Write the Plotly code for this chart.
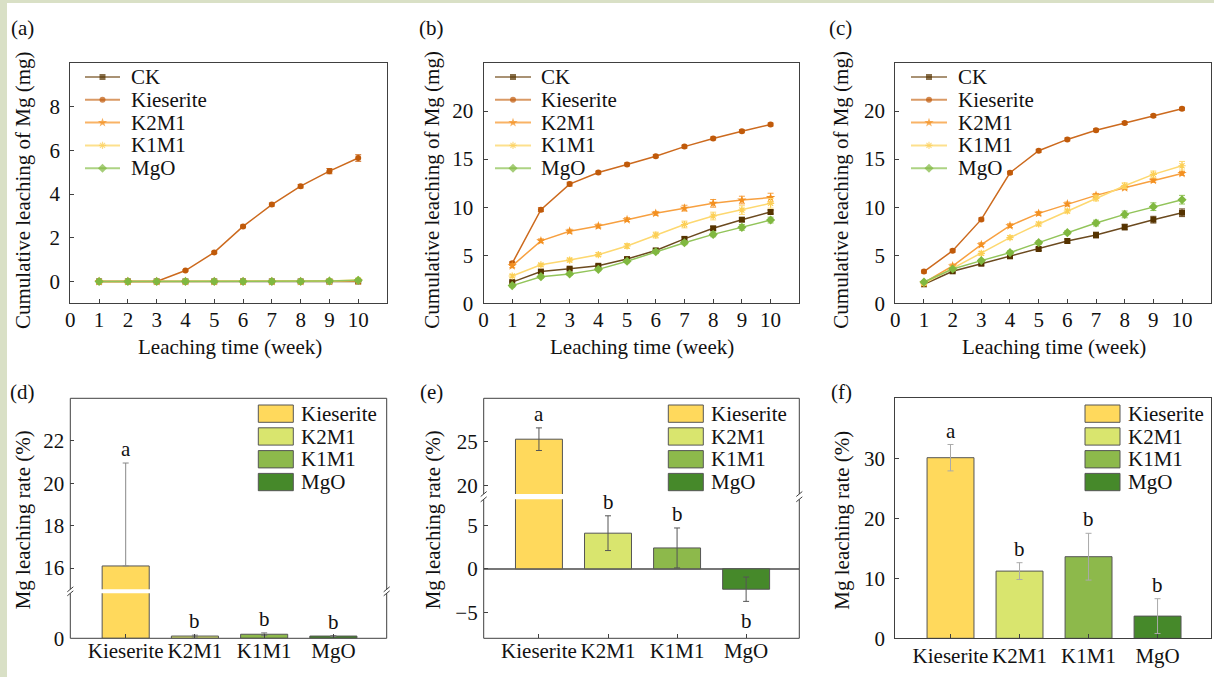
import plotly.graph_objects as go

W, H = 1214, 677
FONT = "'Liberation Serif', 'Times New Roman', Times, serif"
AX = "#404040"

# ---------------- data ----------------
weeks = [1, 2, 3, 4, 5, 6, 7, 8, 9, 10]
series = ["CK", "Kieserite", "K2M1", "K1M1", "MgO"]

# (a)
a_CK = [0, 0, 0, 0, 0, 0, 0, 0, 0, 0]
a_Kieserite = [0, 0, 0, 0.5, 1.33, 2.52, 3.52, 4.36, 5.05, 5.65]
a_K2M1 = [0, 0, 0, 0, 0, 0, 0, 0, 0.01, 0.02]
a_K1M1 = [0, 0, 0, 0, 0, 0, 0, 0, 0.02, 0.07]
a_MgO = [0, 0, 0, 0, 0, 0, 0, 0, 0.02, 0.05]
a_err_CK = [0.01] * 10
a_err_Kieserite = [0, 0, 0, 0.03, 0.05, 0.06, 0.07, 0.08, 0.12, 0.15]
a_err_K2M1 = [0.01] * 10
a_err_K1M1 = [0.01] * 10
a_err_MgO = [0.01] * 10

# (b)
b_CK = [2.2, 3.3, 3.6, 3.9, 4.6, 5.5, 6.7, 7.8, 8.7, 9.5]
b_Kieserite = [4.16, 9.74, 12.4, 13.6, 14.45, 15.3, 16.3, 17.15, 17.9, 18.6]
b_K2M1 = [3.9, 6.5, 7.5, 8.04, 8.7, 9.36, 9.9, 10.4, 10.74, 11.0]
b_K1M1 = [2.84, 4.0, 4.5, 5.06, 5.96, 7.1, 8.2, 9.08, 9.7, 10.4]
b_MgO = [1.84, 2.77, 3.05, 3.53, 4.37, 5.37, 6.3, 7.17, 7.9, 8.66]
b_err_CK = [0.1, 0.15, 0.15, 0.15, 0.15, 0.15, 0.2, 0.2, 0.2, 0.2]
b_err_Kieserite = [0.15, 0.2, 0.2, 0.15, 0.15, 0.15, 0.15, 0.15, 0.15, 0.15]
b_err_K2M1 = [0.2, 0.2, 0.2, 0.2, 0.2, 0.2, 0.3, 0.4, 0.4, 0.45]
b_err_K1M1 = [0.15, 0.15, 0.2, 0.2, 0.25, 0.3, 0.35, 0.4, 0.45, 0.5]
b_err_MgO = [0.15, 0.15, 0.15, 0.15, 0.15, 0.2, 0.2, 0.25, 0.3, 0.3]

# (c)
c_CK = [1.98, 3.33, 4.12, 4.89, 5.65, 6.48, 7.1, 7.93, 8.7, 9.42]
c_Kieserite = [3.3, 5.47, 8.73, 13.58, 15.87, 17.05, 18.0, 18.75, 19.5, 20.24]
c_K2M1 = [2.15, 3.88, 6.1, 8.07, 9.36, 10.33, 11.23, 12.02, 12.79, 13.51]
c_K1M1 = [2.04, 3.64, 5.2, 6.83, 8.25, 9.6, 10.95, 12.23, 13.41, 14.31]
c_MgO = [2.22, 3.57, 4.44, 5.27, 6.31, 7.35, 8.35, 9.25, 10.05, 10.78]
c_err_CK = [0.1, 0.15, 0.15, 0.15, 0.15, 0.2, 0.3, 0.3, 0.35, 0.4]
c_err_Kieserite = [0.15] * 10
c_err_K2M1 = [0.15, 0.2, 0.2, 0.2, 0.2, 0.2, 0.2, 0.2, 0.2, 0.2]
c_err_K1M1 = [0.1, 0.15, 0.2, 0.2, 0.2, 0.2, 0.3, 0.3, 0.35, 0.45]
c_err_MgO = [0.1, 0.15, 0.15, 0.2, 0.2, 0.2, 0.3, 0.35, 0.4, 0.45]

# bar panels
treatments = ["Kieserite", "K2M1", "K1M1", "MgO"]
d_rate = [16.1, 0.05, 0.09, 0.05]
d_err_plus = [4.85, 0.02, 0.03, 0.01]
d_err_minus = [0, 0.02, 0.03, 0.01]
d_letters = ["a", "b", "b", "b"]
e_rate = [25.3, 4.1, 2.4, -2.35]
e_err = [1.3, 2.0, 2.3, 1.4]
e_letters = ["a", "b", "b", "b"]
f_rate = [30.1, 11.2, 13.6, 3.7]
f_err = [2.2, 1.4, 3.9, 2.9]
f_letters = ["a", "b", "b", "b"]

# ---------------- styles ----------------
line_col = {"CK": "#6b4a1f", "Kieserite": "#cc6a1e", "K2M1": "#f7a040",
            "K1M1": "#fdd870", "MgO": "#92c45a"}
mark_col = {"CK": "#553300", "Kieserite": "#c05a0a", "K2M1": "#f39020",
            "K1M1": "#fccf55", "MgO": "#80b840"}
legend_line = {"CK": "rgba(140,110,70,0.75)", "Kieserite": "rgba(205,120,50,0.75)",
               "K2M1": "rgba(247,160,64,0.8)", "K1M1": "rgba(253,216,112,0.8)",
               "MgO": "rgba(146,196,90,0.75)"}
symbols = {"CK": "square", "Kieserite": "circle", "K2M1": "star",
           "K1M1": "asterisk-open", "MgO": "diamond"}
msize = {"CK": 6, "Kieserite": 6, "K2M1": 7, "K1M1": 6, "MgO": 7}
bar_col = ["#FFD95C", "#D9E56E", "#8DB94B", "#46892A"]


def px(x):
    return x / W


def py(y):
    return 1 - y / H


def mk_marker(name):
    m = dict(symbol=symbols[name], size=msize[name], color=mark_col[name])
    if symbols[name] == "asterisk-open":
        m["line"] = dict(color=mark_col[name], width=1.2)
    else:
        m["line"] = dict(width=0)
    return m


fig = go.Figure()

panels = [
    ("x", "y", [a_CK, a_Kieserite, a_K2M1, a_K1M1, a_MgO],
     [a_err_CK, a_err_Kieserite, a_err_K2M1, a_err_K1M1, a_err_MgO]),
    ("x2", "y2", [b_CK, b_Kieserite, b_K2M1, b_K1M1, b_MgO],
     [b_err_CK, b_err_Kieserite, b_err_K2M1, b_err_K1M1, b_err_MgO]),
    ("x3", "y3", [c_CK, c_Kieserite, c_K2M1, c_K1M1, c_MgO],
     [c_err_CK, c_err_Kieserite, c_err_K2M1, c_err_K1M1, c_err_MgO]),
]
for xa, ya, vals, errs in panels:
    for name, v, e in zip(series, vals, errs):
        fig.add_trace(go.Scatter(
            x=weeks, y=v, xaxis=xa, yaxis=ya, mode="lines+markers", name=name,
            line=dict(color=line_col[name], width=1.5),
            marker=mk_marker(name),
            error_y=dict(type="data", array=e, visible=True, color=line_col[name],
                         thickness=1, width=3),
            showlegend=False, cliponaxis=False))


def add_bars(xa, ya, vals, plus, minus, ecol):
    fig.add_trace(go.Bar(
        x=treatments, y=vals, xaxis=xa, yaxis=ya, width=0.68,
        marker=dict(color=bar_col, line=dict(color="#555555", width=1)),
        error_y=dict(type="data", array=plus, arrayminus=minus, symmetric=False,
                     visible=True, color=ecol, thickness=1, width=3),
        showlegend=False))


add_bars("x4", "y4", d_rate, d_err_plus, d_err_minus, "#777777")
add_bars("x4", "y5", d_rate, d_err_plus, d_err_minus, "#888888")
add_bars("x5", "y6", e_rate, e_err, e_err, "#555555")
add_bars("x5", "y7", e_rate, e_err, e_err, "#555555")
add_bars("x6", "y8", f_rate, f_err, f_err, "#aaaaaa")

# ---------------- axes ----------------
tickfont = dict(family=FONT, size=21, color="#111111")
common = dict(showgrid=False, zeroline=False, ticks="inside", ticklen=4,
              tickcolor=AX, tickfont=tickfont, fixedrange=True, automargin=False)

line_dom_y = [py(303.3), py(63)]
line_x = {"": (70.3, 387), "2": (483.5, 799.3), "3": (895.3, 1210.7)}
y_rng = {"": ([-1, 10], [0, 2, 4, 6, 8]), "2": ([0, 25], [0, 5, 10, 15, 20]),
         "3": ([0, 25], [0, 5, 10, 15, 20])}
layout = {}
for k, (x0, x1) in line_x.items():
    layout["xaxis" + k] = dict(common, domain=[px(x0), px(x1)], range=[0, 11],
                               tickvals=list(range(0, 11)), anchor="y" + k,
                               showline=True, mirror=True, linecolor=AX, linewidth=1,
                               ticklabelstandoff=-3)
    layout["yaxis" + k] = dict(common, domain=line_dom_y, range=y_rng[k][0],
                               tickvals=y_rng[k][1], anchor="x" + k,
                               showline=True, mirror=True, linecolor=AX, linewidth=1,
                               ticklabelstandoff=5)

cat_rng = [-0.8, 3.77]
# (d)
layout["xaxis4"] = dict(common, domain=[px(70.3), px(386.7)], range=cat_rng,
                        anchor="y4", type="category", showline=False, ticklabelstandoff=-2)
layout["yaxis4"] = dict(common, domain=[py(638.3), py(593.3)], range=[0, 1],
                        tickvals=[0], anchor="x4", ticklabelstandoff=5)
layout["yaxis5"] = dict(common, domain=[py(589.3), py(398.3)], range=[15, 24],
                        tickvals=[16, 18, 20, 22], anchor="x4", ticklabelstandoff=5)
# (e)
layout["xaxis5"] = dict(common, domain=[px(483.7), px(799.3)], range=cat_rng,
                        anchor="y6", type="category", showline=False, ticklabelstandoff=-2)
layout["yaxis6"] = dict(common, domain=[py(638.3), py(499.3)], range=[-8, 8],
                        tickvals=[-5, 0, 5], anchor="x5", zeroline=True,
                        zerolinecolor="#777777", zerolinewidth=1.5, ticklabelstandoff=5)
layout["yaxis7"] = dict(common, domain=[py(494), py(398.3)], range=[19, 30],
                        tickvals=[20, 25], anchor="x5", ticklabelstandoff=5)
# (f)
layout["xaxis6"] = dict(common, domain=[px(895.3), px(1210.7)], range=cat_rng,
                        anchor="y8", type="category", showline=True, mirror=True,
                        linecolor=AX, linewidth=1, ticklabelstandoff=-2)
layout["yaxis8"] = dict(common, domain=[py(638.3), py(398.3)], range=[0, 40],
                        tickvals=[0, 10, 20, 30], anchor="x6", showline=True,
                        mirror=True, linecolor=AX, linewidth=1, ticklabelstandoff=5)
# overlay (pixel) axes for the hand-drawn legends
layout["xaxis7"] = dict(domain=[0, 1], range=[0, W], visible=False, fixedrange=True,
                        anchor="y9", automargin=False)
layout["yaxis9"] = dict(domain=[0, 1], range=[H, 0], visible=False, fixedrange=True,
                        anchor="x7", automargin=False)

# ---------------- line legends ----------------
leg_rows = [77 + i * 22.8 for i in range(5)]
line_leg = [(85, 120, 129), (495, 531, 539), (911, 947, 955.5)]
annotations = []
for (l0, l1, tx) in line_leg:
    for name, yy in zip(series, leg_rows):
        mid = (l0 + l1) / 2
        m = mk_marker(name)
        m["size"] = [0, msize[name], 0]
        fig.add_trace(go.Scatter(x=[l0, mid, l1], y=[yy, yy, yy], xaxis="x7", yaxis="y9",
                                 mode="lines+markers",
                                 line=dict(color=legend_line[name], width=2),
                                 marker=m, showlegend=False, hoverinfo="skip"))
        annotations.append(dict(x=px(tx), y=py(yy), xref="paper", yref="paper",
                                text=name, showarrow=False, xanchor="left",
                                yanchor="middle", font=dict(family=FONT, size=21,
                                                            color="#111111")))

# ---------------- bar legends ----------------
shapes = []
bar_leg_rows = [405 + i * 22.8 for i in range(4)]
for rx in [258.3, 668.3, 1085]:
    for t, col, yy in zip(treatments, bar_col, bar_leg_rows):
        shapes.append(dict(type="rect", xref="paper", yref="paper",
                           x0=px(rx), x1=px(rx + 35), y0=py(yy + 17.3), y1=py(yy),
                           fillcolor=col, line=dict(color="#555555", width=1)))
        annotations.append(dict(x=px(rx + 41), y=py(yy + 8.7), xref="paper",
                                yref="paper", text=t, showarrow=False,
                                xanchor="left", yanchor="middle",
                                font=dict(family=FONT, size=21, color="#111111")))


# ---------------- frames for broken-axis panels ----------------
def broken_frame(x0, x1, top, up_bot, lo_top, bot):
    segs = [(x0, top, x1, top), (x0, bot, x1, bot),
            (x0, top, x0, up_bot), (x0, lo_top, x0, bot),
            (x1, top, x1, up_bot), (x1, lo_top, x1, bot)]
    for xx in (x0, x1):
        for yy in (up_bot, lo_top):
            segs.append((xx - 3, yy + 2.5, xx + 3, yy - 2.5))
    for (a, b, c, d) in segs:
        shapes.append(dict(type="line", xref="paper", yref="paper",
                           x0=px(a), y0=py(b), x1=px(c), y1=py(d),
                           line=dict(color=AX, width=1)))


broken_frame(70.3, 386.7, 398.3, 589.3, 593.3, 638.3)
broken_frame(483.7, 799.3, 398.3, 494, 499.3, 638.3)

# background strips
shapes.append(dict(type="rect", xref="paper", yref="paper", x0=0, x1=px(7), y0=0, y1=1,
                   fillcolor="#d9e0c6", line=dict(width=0), layer="below"))
shapes.append(dict(type="rect", xref="paper", yref="paper", x0=0, x1=1, y0=py(3), y1=1,
                   fillcolor="#d9e0c6", line=dict(width=0), layer="below"))


# ---------------- letters ----------------
def letters(xa, ya, cats, vals, plus, minus, labs):
    for t, v, p, m, l in zip(cats, vals, plus, minus, labs):
        if v >= 0:
            annotations.append(dict(x=t, y=v + p, xref=xa, yref=ya, text=l,
                                    showarrow=False, yanchor="bottom", yshift=0,
                                    font=dict(family=FONT, size=21, color="#111111")))
        else:
            annotations.append(dict(x=t, y=v - m, xref=xa, yref=ya, text=l,
                                    showarrow=False, yanchor="top", yshift=-6,
                                    font=dict(family=FONT, size=21, color="#111111")))


letters("x4", "y5", treatments[:1], d_rate[:1], d_err_plus[:1], d_err_minus[:1], d_letters[:1])
letters("x4", "y4", treatments[1:], d_rate[1:], d_err_plus[1:], d_err_minus[1:], d_letters[1:])
letters("x5", "y7", treatments[:1], e_rate[:1], e_err[:1], e_err[:1], e_letters[:1])
letters("x5", "y6", treatments[1:], e_rate[1:], e_err[1:], e_err[1:], e_letters[1:])
letters("x6", "y8", treatments, f_rate, f_err, f_err, f_letters)

# ---------------- titles / panel labels ----------------
tf = dict(family=FONT, size=21, color="#111111")
for lab, x, y in [("(a)", 22, 28), ("(b)", 431.5, 28), ("(c)", 840, 28),
                  ("(d)", 22, 391.5), ("(e)", 431.5, 391.5), ("(f)", 841.5, 391.5)]:
    annotations.append(dict(x=px(x), y=py(y), xref="paper", yref="paper", text=lab,
                            showarrow=False, xanchor="center", yanchor="middle", font=tf))
for x in [229.7, 641.7, 1054]:
    annotations.append(dict(x=px(x), y=py(346.7), xref="paper", yref="paper",
                            text="Leaching time (week)", showarrow=False,
                            xanchor="center", yanchor="middle", font=tf))
for x in [23, 431.7, 840.7]:
    annotations.append(dict(x=px(x), y=py(190), xref="paper", yref="paper",
                            text="Cumulative leaching of Mg (mg)", showarrow=False,
                            textangle=-90, xanchor="center", yanchor="middle", font=tf))
for x in [23.3, 433.3, 841.7]:
    annotations.append(dict(x=px(x), y=py(520), xref="paper", yref="paper",
                            text="Mg leaching rate (%)", showarrow=False,
                            textangle=-90, xanchor="center", yanchor="middle", font=tf))

fig.update_layout(
    width=W, height=H, margin=dict(l=0, r=0, t=0, b=0, pad=0), autosize=False,
    paper_bgcolor="white", plot_bgcolor="rgba(0,0,0,0)",
    font=dict(family=FONT, size=21, color="#111111"),
    showlegend=False, bargap=0.3,
    shapes=shapes, annotations=annotations, **layout)

fig.write_html("out.html", config={"displayModeBar": False},
               post_script="document.body.style.margin='0';document.body.style.overflow='hidden';")
